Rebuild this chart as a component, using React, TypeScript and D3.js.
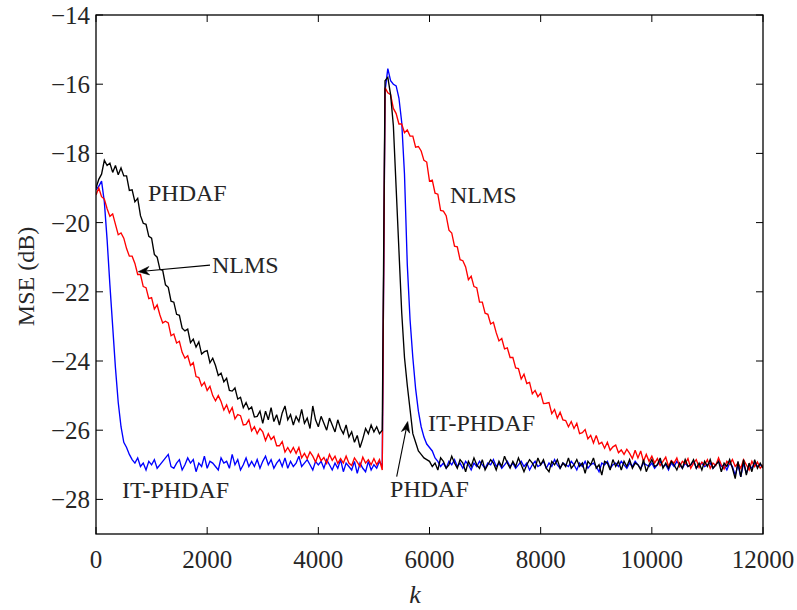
import React from "react";
import * as d3 from "d3";

// ---- data (MSE in dB, sampled every K_STEP iterations, k = 0..12000) ----
const K_STEP = 50;

const itPhdaf = [
  -19.05, -18.95, -18.8, -19.4, -20.5, -21.8, -23.0, -24.2, -25.2, -25.9,
  -26.35, -26.5, -26.7, -26.85, -26.95, -26.8, -27.05, -26.95, -27.15, -26.9,
  -27.0, -26.85, -27.1, -27.0, -26.9, -26.8, -26.7, -27.05, -27.1, -26.95,
  -26.85, -27.15, -27.0, -26.8, -26.95, -26.85, -27.2, -26.95, -27.05, -26.75,
  -27.1, -26.9, -26.95, -27.05, -27.15, -26.8, -26.95, -26.9, -27.1, -26.7,
  -27.0, -26.85, -27.15, -27.0, -26.8, -27.05, -26.9, -27.05, -26.85, -27.1,
  -26.9, -26.75, -27.0, -26.85, -27.1, -26.95, -26.85, -27.05, -26.8, -27.1,
  -26.9, -27.05, -26.95, -26.75, -27.05, -26.95, -26.85, -27.0, -27.15, -26.9,
  -27.0, -26.9, -27.1, -26.85, -27.0, -27.15, -26.95, -27.1, -26.85, -27.2,
  -26.95, -27.05, -27.15, -26.9, -27.25, -26.95, -27.1, -27.2, -26.9, -27.15,
  -27.0, -27.1, -26.9, -27.05, -16.2, -15.55, -15.9, -16.0, -16.05, -16.4,
  -17.1, -18.6, -21.2, -22.8, -23.9, -24.8, -25.45, -25.9, -26.2, -26.4,
  -26.5, -26.6, -26.8, -26.9, -27.05, -26.95, -27.1, -26.9, -27.0, -26.85,
  -27.05, -26.95, -27.1, -26.9, -27.0, -27.15, -26.95, -27.05, -26.9, -27.0,
  -27.1, -26.95, -27.0, -26.85, -27.05, -26.95, -27.1, -27.0, -26.9, -27.05,
  -26.95, -27.1, -27.0, -26.9, -27.05, -26.95, -27.15, -27.0, -26.9, -27.05,
  -27.0, -26.9, -27.1, -26.95, -27.05, -26.85, -27.0, -27.1, -26.95, -27.0,
  -27.05, -26.9, -27.0, -27.15, -26.95, -27.05, -26.9, -27.1, -27.0, -26.95,
  -27.05, -27.2, -26.95, -27.0, -26.9, -27.1, -27.0, -26.95, -27.05, -26.9,
  -27.0, -27.1, -26.95, -27.05, -26.9, -27.0, -27.1, -26.95, -27.0, -27.05,
  -26.95, -27.1, -27.0, -26.9, -27.05, -27.0, -27.15, -26.95, -27.05, -26.9,
  -27.0, -27.1, -26.95, -27.05, -27.0, -26.9, -27.1, -27.0, -26.95, -27.05,
  -27.0, -26.95, -27.1, -27.0, -26.9, -27.05, -27.0, -27.15, -26.95, -27.05,
  -27.3, -27.0, -27.35, -26.95, -27.25, -27.0, -27.1, -26.95, -27.05, -27.0,
  -27.05,
];

const nlms = [
  -19.2, -19.0, -19.25, -19.32, -19.6, -19.82, -19.75, -20.05, -20.35, -20.3,
  -20.45, -20.75, -20.97, -20.97, -21.18, -21.5, -21.5, -21.85, -21.88, -22.2,
  -22.17, -22.5, -22.38, -22.67, -22.9, -22.85, -22.9, -23.27, -23.22, -23.48,
  -23.43, -23.75, -23.92, -23.85, -24.13, -24.05, -24.45, -24.48, -24.72, -24.62,
  -24.85, -24.73, -25.0, -25.15, -25.0, -25.17, -25.42, -25.27, -25.5, -25.35,
  -25.67, -25.55, -25.58, -25.85, -25.83, -25.7, -26.02, -25.9, -26.1, -25.95,
  -26.05, -26.3, -26.1, -26.27, -26.18, -26.45, -26.45, -26.33, -26.63, -26.5,
  -26.65, -26.5, -26.67, -26.5, -26.8, -26.67, -26.82, -26.63, -26.75, -26.92,
  -26.7, -26.88, -26.79, -26.96, -26.7, -26.87, -26.75, -26.96, -26.82, -26.95,
  -26.75, -26.95, -27.02, -26.8, -26.92, -27.05, -26.78, -26.95, -26.85, -27.0,
  -26.82, -27.0, -26.85, -27.15, -16.1, -16.25, -16.3, -16.7, -16.85, -17.15,
  -17.15, -17.4, -17.32, -17.5, -17.5, -17.82, -17.8, -17.93, -18.2, -18.25,
  -18.8, -18.77, -19.15, -19.18, -19.65, -19.67, -19.8, -20.22, -20.3, -20.68,
  -20.7, -21.07, -21.1, -21.28, -21.65, -21.55, -21.85, -21.88, -22.3, -22.3,
  -22.62, -22.65, -22.93, -22.88, -23.18, -23.42, -23.35, -23.65, -23.62, -23.9,
  -23.9, -24.2, -24.22, -24.52, -24.38, -24.65, -24.62, -24.95, -24.85, -25.03,
  -24.93, -25.23, -25.22, -25.2, -25.52, -25.4, -25.65, -25.48, -25.7, -25.72,
  -25.9, -25.75, -25.95, -25.8, -26.1, -26.07, -25.98, -26.25, -26.15, -26.37,
  -26.15, -26.4, -26.35, -26.52, -26.35, -26.58, -26.48, -26.43, -26.65, -26.57,
  -26.7, -26.55, -26.67, -26.82, -26.58, -26.8, -26.6, -26.9, -26.7, -26.9,
  -26.75, -26.95, -26.82, -27.02, -26.9, -26.78, -27.05, -26.88, -26.95, -26.8,
  -27.05, -26.9, -26.97, -26.82, -27.1, -26.95, -26.85, -27.08, -26.92, -27.0,
  -26.85, -27.1, -26.95, -27.02, -26.8, -27.0, -27.12, -26.9, -26.98, -26.85,
  -27.05, -26.95, -27.1, -26.85, -27.0, -27.15, -26.9, -27.05, -26.92, -27.1,
  -27.0,
];

const phdaf = [
  -19.0, -18.75, -18.6, -18.2, -18.35, -18.28, -18.55, -18.35, -18.62, -18.42,
  -18.65, -18.65, -19.07, -19.05, -19.4, -19.3, -19.8, -20.02, -20.05, -20.4,
  -20.45, -20.92, -21.0, -21.35, -21.38, -21.8, -21.87, -22.27, -22.3, -22.65,
  -22.68, -23.05, -23.13, -23.08, -23.47, -23.37, -23.6, -23.45, -23.8, -23.73,
  -23.7, -24.05, -23.92, -24.13, -24.42, -24.35, -24.6, -24.5, -24.85, -24.87,
  -24.78, -25.1, -25.05, -25.35, -25.2, -25.4, -25.33, -25.62, -25.6, -25.45,
  -25.8, -25.45, -25.7, -25.35, -25.75, -25.55, -25.85, -25.5, -25.3, -25.7,
  -25.55, -25.85, -25.6, -25.75, -25.4, -25.8, -25.65, -25.95, -25.3, -25.7,
  -25.9, -25.6, -25.8, -26.0, -25.65, -25.85, -26.05, -25.7, -25.95, -26.1,
  -25.85, -26.2, -26.05, -26.35, -26.15, -26.5, -26.25, -25.95, -26.1, -25.85,
  -26.05, -25.9, -26.1, -26.0, -15.9, -15.8, -16.3, -17.2, -19.0, -20.8,
  -22.6, -23.9, -24.7, -25.4, -26.1, -26.35, -26.6, -26.7, -26.8, -26.85,
  -26.9, -27.05, -26.95, -27.15, -26.8, -26.9, -27.1, -27.0, -26.75, -26.95,
  -27.1, -26.85, -26.95, -27.2, -26.9, -27.05, -26.8, -27.0, -27.1, -26.85,
  -27.15, -27.0, -26.85, -26.95, -27.15, -26.9, -27.05, -26.75, -26.95, -27.1,
  -26.9, -27.05, -26.8, -27.0, -27.2, -27.0, -26.85, -26.95, -27.1, -26.8,
  -27.0, -26.85, -27.1, -27.2, -26.9, -27.0, -26.85, -27.1, -26.95, -27.05,
  -26.8, -27.1, -27.0, -26.85, -27.05, -26.95, -27.25, -26.9, -27.0, -26.8,
  -27.1, -27.0, -27.3, -26.9, -26.95, -27.15, -26.85, -27.05, -26.9, -27.15,
  -26.9, -27.05, -26.85, -27.1, -26.95, -27.0, -27.15, -26.85, -27.2, -27.0,
  -26.85, -27.05, -27.0, -26.8, -27.1, -26.95, -27.1, -26.9, -27.0, -27.15,
  -26.95, -27.1, -26.85, -27.05, -27.0, -26.85, -27.1, -26.95, -27.15, -26.9,
  -27.05, -26.85, -27.1, -27.0, -26.9, -27.2, -26.95, -27.05, -26.85, -27.1,
  -27.4, -26.9, -27.35, -26.85, -27.3, -26.95, -27.2, -26.85, -27.1, -26.95,
  -27.1,
];

const xTicks = [0, 2000, 4000, 6000, 8000, 10000, 12000];
const yTicks = [-28, -26, -24, -22, -20, -18, -16, -14];

// annotations: text, k, dB (baseline)
const labelTexts = ["PHDAF", "NLMS", "NLMS", "IT-PHDAF", "PHDAF", "IT-PHDAF"];
const labelK = [936, 2087, 6369, 5973, 5290, 468];
const labelDb = [-19.38, -21.46, -19.43, -26.02, -27.93, -27.96];

// arrows: from (k,dB) to (k,dB)
const arrowFromK = [2051, 5410];
const arrowFromDb = [-21.23, -27.34];
const arrowToK = [761, 5608];
const arrowToDb = [-21.42, -25.75];

const W = 797;
const H = 610;
const M = { left: 96, right: 763, top: 15, bottom: 534 };
const TXT = "#262626";
const FONT = "'Liberation Serif', 'Times New Roman', serif";

export default function App() {
  const x = d3.scaleLinear().domain([0, 12000]).range([M.left, M.right]);
  const y = d3.scaleLinear().domain([-29, -14]).range([M.bottom, M.top]);
  const line = d3
    .line<number>()
    .x((_, i) => x(i * K_STEP))
    .y((d) => y(d));

  const series = [
    { v: itPhdaf, c: "#0000ff" },
    { v: nlms, c: "#ff0000" },
    { v: phdaf, c: "#000000" },
  ];

  const arrowPaths = arrowFromK.map((_, i) => {
    const x1 = x(arrowFromK[i]);
    const y1 = y(arrowFromDb[i]);
    const x2 = x(arrowToK[i]);
    const y2 = y(arrowToDb[i]);
    const ang = Math.atan2(y2 - y1, x2 - x1);
    const L = 11;
    const Wd = 4.2;
    const back = 7.5;
    const bx = x2 - L * Math.cos(ang);
    const by = y2 - L * Math.sin(ang);
    const px = -Math.sin(ang);
    const py = Math.cos(ang);
    const nx = x2 - back * Math.cos(ang);
    const ny = y2 - back * Math.sin(ang);
    const head = `M${x2},${y2} L${bx + px * Wd},${by + py * Wd} L${nx},${ny} L${bx - px * Wd},${by - py * Wd} Z`;
    return { shaft: `M${x1},${y1} L${nx},${ny}`, head };
  });

  return (
    <svg
      width={W}
      height={H}
      style={{ position: "absolute", left: 0, top: 0, background: "#fff" }}
      fontFamily={FONT}
    >
      <defs>
        <clipPath id="plotclip">
          <rect x={M.left} y={M.top} width={M.right - M.left} height={M.bottom - M.top} />
        </clipPath>
      </defs>
      <rect x={0} y={0} width={W} height={H} fill="#fff" />

      <g clipPath="url(#plotclip)">
        {series.map((s, i) => (
          <path key={i} d={line(s.v) || ""} fill="none" stroke={s.c} strokeWidth={1.35} strokeLinejoin="miter" strokeMiterlimit={3} />
        ))}
      </g>

      {/* frame */}
      <rect
        x={M.left}
        y={M.top}
        width={M.right - M.left}
        height={M.bottom - M.top}
        fill="none"
        stroke="#000"
        strokeWidth={1.3}
      />

      {/* ticks */}
      {xTicks.map((t) => (
        <g key={"xt" + t}>
          <line x1={x(t)} x2={x(t)} y1={M.bottom} y2={M.bottom - 7} stroke="#000" strokeWidth={1} />
          <line x1={x(t)} x2={x(t)} y1={M.top} y2={M.top + 7} stroke="#000" strokeWidth={1} />
          <text x={x(t)} y={568} textAnchor="middle" fontSize={25} fill={TXT}>
            {t}
          </text>
        </g>
      ))}
      {yTicks.map((t) => (
        <g key={"yt" + t}>
          <line x1={M.left} x2={M.left + 7} y1={y(t)} y2={y(t)} stroke="#000" strokeWidth={1} />
          <line x1={M.right} x2={M.right - 7} y1={y(t)} y2={y(t)} stroke="#000" strokeWidth={1} />
          <text x={90} y={y(t) + 9} textAnchor="end" fontSize={25} fill={TXT}>
            {"\u2212" + Math.abs(t)}
          </text>
        </g>
      ))}

      {/* axis labels */}
      <text x={415} y={603} textAnchor="middle" fontSize={26} fontStyle="italic" fill={TXT}>
        k
      </text>
      <text
        transform={`translate(34, ${(M.top + M.bottom) / 2 + 2}) rotate(-90)`}
        textAnchor="middle"
        fontSize={24}
        fill={TXT}
      >
        MSE (dB)
      </text>

      {/* annotations */}
      {labelTexts.map((t, i) => (
        <text key={"lb" + i} x={x(labelK[i])} y={y(labelDb[i])} fontSize={24} fill={TXT}>
          {t}
        </text>
      ))}
      {arrowPaths.map((a, i) => (
        <g key={"ar" + i}>
          <path d={a.shaft} stroke="#000" strokeWidth={1.1} fill="none" />
          <path d={a.head} fill="#000" stroke="#000" strokeWidth={0.6} strokeLinejoin="miter" />
        </g>
      ))}
    </svg>
  );
}
